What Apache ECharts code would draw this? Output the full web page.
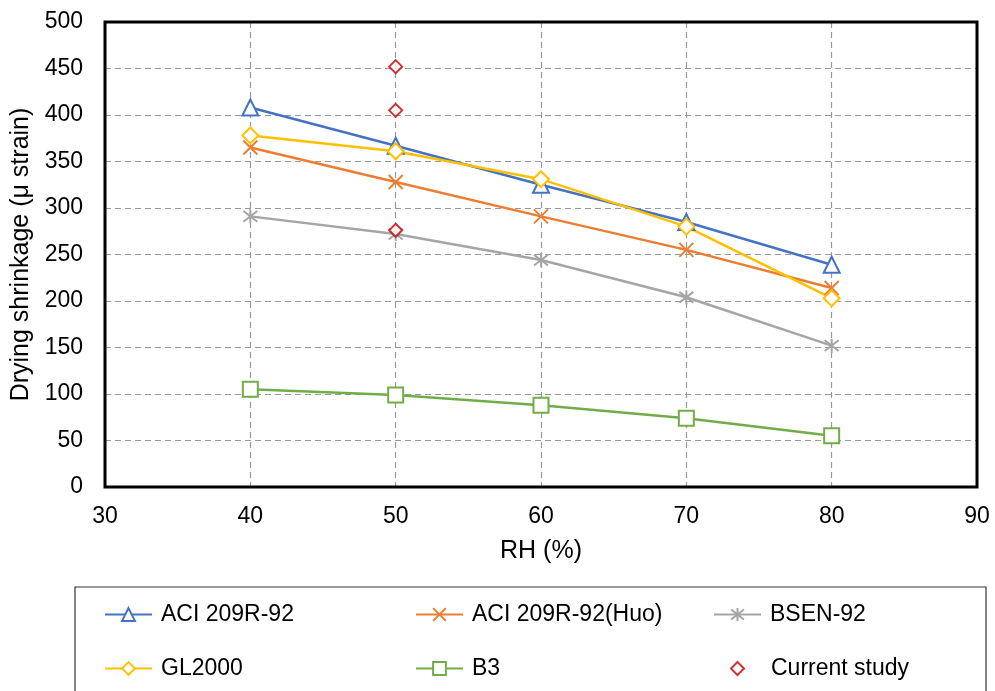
<!DOCTYPE html>
<html>
<head>
<meta charset="utf-8">
<script src="https://cdn.jsdelivr.net/npm/echarts@6/dist/echarts.min.js"></script>
<style>
    html, body {margin: 0; padding: 0; background: #fff;}
    #main {width: 995px; height: 691px;}
</style>
</head>
<body>
<div id="main"></div>
<script>
    // RH (%) values
    const rh = [40, 50, 60, 70, 80];

    // drying shrinkage (micro strain) per model
    const aci209 = [408, 367, 325, 285, 239];
    const aci209Huo = [365, 328, 291, 255, 214];
    const bsen92 = [291, 272, 244, 204, 152];
    const gl2000 = [378, 361, 331, 280, 203];
    const b3 = [105, 99, 88, 74, 55];

    // measured points, all at RH 50
    const currentRh = [50, 50, 50];
    const currentVal = [452, 405, 276];

    const names = ['ACI 209R-92', 'ACI 209R-92(Huo)', 'BSEN-92', 'GL2000', 'B3', 'Current study'];

    const font = '"Liberation Sans", Arial, sans-serif';

    const crossPath = 'path://M0,0L10,10M10,0L0,10';
    const starPath = 'path://M0,0L10,10M10,0L0,10M5,-1.5L5,11.5';

    function pairs(xs, ys) {
        return xs.map((x, i) => [x, ys[i]]);
    }

    function lineSeries(name, values, color, symbol, size, hollow) {
        return {
            name: name,
            type: 'line',
            data: pairs(rh, values),
            symbol: symbol,
            symbolSize: size,
            showAllSymbol: true,
            lineStyle: {color: color, width: 2.5},
            itemStyle: {
                color: hollow ? '#fff' : color,
                borderColor: color,
                borderWidth: 2
            },
            emphasis: {disabled: true},
            animation: false
        };
    }

    // one legend per slot so the columns line up like the original
    const slots = [
        [104, 603], [415, 603], [713, 603],
        [104, 657], [415, 657], [730, 657]
    ];
    const legends = names.map((n, i) => {
        const last = i === names.length - 1;
        return {
            data: [n],
            left: slots[i][0],
            top: slots[i][1],
            padding: 0,
            itemWidth: last ? 13 : 47,
            itemHeight: last ? 13 : 16,
            selectedMode: false,
            textStyle: {
                fontFamily: font, fontSize: 23, color: '#000',
                padding: [0, 0, 0, last ? 22 : 4]
            }
        };
    });

    const chart = echarts.init(document.getElementById('main'), null, {renderer: 'canvas'});
    chart.setOption({
        animation: false,
        grid: {left: 105, right: 18, top: 22, bottom: 204},
        legend: legends,
        graphic: [{
            // plot frame
            type: 'rect',
            shape: {x: 105, y: 22, width: 872, height: 465},
            style: {fill: 'none', stroke: '#000', lineWidth: 3},
            z: 100
        }, {
            // legend box
            type: 'rect',
            shape: {x: 75, y: 587, width: 911, height: 120},
            style: {fill: 'none', stroke: '#333', lineWidth: 1.2},
            z: -1
        }],
        xAxis: {
            type: 'value',
            min: 30, max: 90, interval: 10,
            name: 'RH (%)',
            nameLocation: 'middle',
            nameGap: 52,
            nameTextStyle: {fontFamily: font, fontSize: 25, color: '#000'},
            axisLine: {show: false},
            axisTick: {show: false},
            axisLabel: {fontFamily: font, fontSize: 23, color: '#000', margin: 18},
            splitLine: {show: true, lineStyle: {color: '#999', type: [6, 4], width: 1.2}}
        },
        yAxis: {
            type: 'value',
            min: 0, max: 500, interval: 50,
            name: 'Drying shrinkage (\u03bc strain)',
            nameLocation: 'middle',
            nameGap: 68,
            nameTextStyle: {fontFamily: font, fontSize: 25, color: '#000'},
            axisLine: {show: false},
            axisTick: {show: false},
            axisLabel: {fontFamily: font, fontSize: 23, color: '#000', margin: 22},
            splitLine: {show: true, lineStyle: {color: '#999', type: [6, 4], width: 1.2}}
        },
        series: [
            lineSeries(names[0], aci209, '#4472C4', 'triangle', 16, true),
            lineSeries(names[1], aci209Huo, '#ED7D31', crossPath, 14, false),
            lineSeries(names[2], bsen92, '#A5A5A5', starPath, 14, false),
            lineSeries(names[3], gl2000, '#FFC000', 'diamond', 16, true),
            lineSeries(names[4], b3, '#70AD47', 'rect', 15, true),
            {
                name: names[5],
                type: 'scatter',
                data: pairs(currentRh, currentVal),
                symbol: 'diamond',
                symbolSize: 13,
                itemStyle: {color: '#fff', borderColor: '#C00000', borderWidth: 2},
                emphasis: {disabled: true},
                z: 5
            }
        ]
    });
</script>
</body>
</html>
